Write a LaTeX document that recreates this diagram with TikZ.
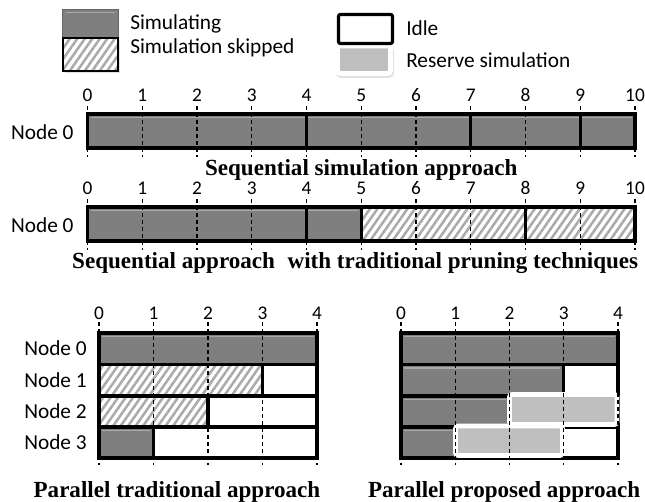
\documentclass[tikz,border=0pt]{standalone}
\usepackage{fontspec}
\setmainfont{Liberation Serif}
\newfontfamily\calfont{Carlito}
\usetikzlibrary{patterns.meta}
\definecolor{simg}{RGB}{127,127,127}
\definecolor{hil}{RGB}{168,168,168}
\definecolor{resg}{RGB}{191,191,191}
\definecolor{skipg}{RGB}{170,170,170}
\newcommand\simseg[4]{%
  \fill[simg] (#1,#3) rectangle (#2,#4);
  \draw[hil,line width=1.1pt,shorten <=2.5pt,shorten >=2.5pt] (#1,{#3+3.4}) -- (#2,{#3+3.4});
}
\begin{document}
\begin{tikzpicture}[x=0.75pt,y=-0.75pt,
  frame/.style={black,line width=2.3pt},
  gridl/.style={black,line width=0.8pt,dash pattern=on 3pt off 2.3pt},
  skip/.style={pattern={Lines[angle=55,distance=4.6pt,line width=1.9pt]},pattern color=skipg},
  res/.style={draw=white,line width=3.6pt,fill=resg,rounded corners=2pt},
  shad/.style={draw=black!12,line width=3.6pt,rounded corners=2pt},
  num/.style={font=\calfont\fontsize{14.5}{16}\selectfont,inner sep=0pt},
  lbl/.style={font=\calfont\fontsize{16}{18}\selectfont,inner sep=0pt},
  ttl/.style={font=\bfseries\fontsize{17.3}{20}\selectfont,inner sep=0pt}]
\useasboundingbox (0,0) rectangle (645,502);

% ---------- legend ----------
\fill[black!12] (64.5,40) rectangle (120,73);
\simseg{62.7}{118}{9}{38}
\draw[gray!80!black,line width=0.6pt] (62.7,9) rectangle (118,38);
\fill[white] (62.7,38) rectangle (118,71);
\draw[skip] (62.7,38) rectangle (118,71);
\draw[black,line width=1.2pt] (62.7,38) rectangle (118,71);
\node[lbl,anchor=west] (lsim) at (130,24) {Simulating};
\node[lbl,anchor=west] (lskip) at (130,48) {Simulation skipped};
\draw[shad] (338.5,48) rectangle (391.5,75.5);
\draw[res] (337.5,46) rectangle (390.5,73.5);
\draw[black,line width=2.4pt,fill=white,rounded corners=1.5pt] (338.5,14.5) rectangle (392.5,43.5);
\node[lbl,anchor=west] (lidle) at (406,28) {Idle};
\node[lbl,anchor=west] (lres) at (406,60) {Reserve simulation};

% ---------- sequential ----------
\begin{scope}[shift={(87.5,0)},xscale=54.75]
  \simseg{0}{10}{114}{148}
  \foreach \s in {4,7,9} \draw[frame] (\s,114) -- (\s,148);
  \draw[frame] (0,114) rectangle (10,148);
  \foreach \i in {0,...,10} {
    \draw[gridl] (\i,106) -- (\i,157);
    \node[num] (sa\i) at (\i,95) {\i};
  }
  \node[lbl,anchor=east] (sn) at (-0.25,132) {Node 0};
  \node[ttl] (st) at (5,170) {Sequential simulation approach};
\end{scope}

% ---------- sequential with pruning ----------
\begin{scope}[shift={(87.5,0)},xscale=54.75]
  \simseg{0}{5}{207}{241}
  \fill[skip] (5,207) rectangle (10,241);
  \foreach \s in {4,5,8} \draw[frame] (\s,207) -- (\s,241);
  \draw[frame] (0,207) rectangle (10,241);
  \foreach \i in {0,...,10} {
    \draw[gridl] (\i,199) -- (\i,250);
    \node[num] (pa\i) at (\i,188) {\i};
  }
  \node[lbl,anchor=east] (pn) at (-0.25,225) {Node 0};
  \node[ttl] (pt) at (4.89,263) {Sequential approach\hspace{0.3em} with traditional pruning techniques};
\end{scope}

% ---------- parallel traditional ----------
\begin{scope}[shift={(99,0)},xscale=54.5]
  \simseg{0}{4}{333}{364.5}
  \fill[skip] (0,364.5) rectangle (3,396);
  \fill[skip] (0,396) rectangle (2,427);
  \simseg{0}{1}{427}{458}
  \draw[frame] (0,333) rectangle (4,458);
  \foreach \y in {364.5,396,427} \draw[frame] (0,\y) -- (4,\y);
  \draw[frame] (3,364.5) -- (3,396);
  \draw[frame] (2,396) -- (2,427);
  \draw[frame] (1,427) -- (1,458);
  \foreach \i in {0,...,4} {
    \draw[gridl] (\i,322) -- (\i,465);
    \node[num] (la\i) at (\i,313) {\i};
  }
  \node[lbl,anchor=east] (ln0) at (-0.22,348.5) {Node 0};
  \node[lbl,anchor=east] (ln1) at (-0.22,380) {Node 1};
  \node[lbl,anchor=east] (ln2) at (-0.22,411.5) {Node 2};
  \node[lbl,anchor=east] (ln3) at (-0.22,442.5) {Node 3};
  \node[ttl] (lt) at (1.43,492) {Parallel traditional approach};
\end{scope}

% ---------- parallel proposed ----------
\begin{scope}[shift={(401,0)},xscale=54.25]
  \simseg{0}{4}{333}{364.5}
  \simseg{0}{3}{364.5}{396}
  \simseg{0}{2}{396}{427}
  \simseg{0}{1}{427}{458}
  \draw[frame] (0,333) rectangle (4,458);
  \foreach \y in {364.5,396,427} \draw[frame] (0,\y) -- (4,\y);
  \draw[frame] (3,364.5) -- (3,396);
  \draw[res] (1.005,426) rectangle (2.977,455.5);
  \draw[res] (2,394.5) rectangle (3.982,424.5);
  \foreach \i in {0,...,4} {
    \draw[gridl] (\i,322) -- (\i,465);
    \node[num] (ra\i) at (\i,313) {\i};
  }
  \node[ttl] (rt) at (1.9,492) {Parallel proposed approach};
\end{scope}
\end{tikzpicture}
\end{document}
